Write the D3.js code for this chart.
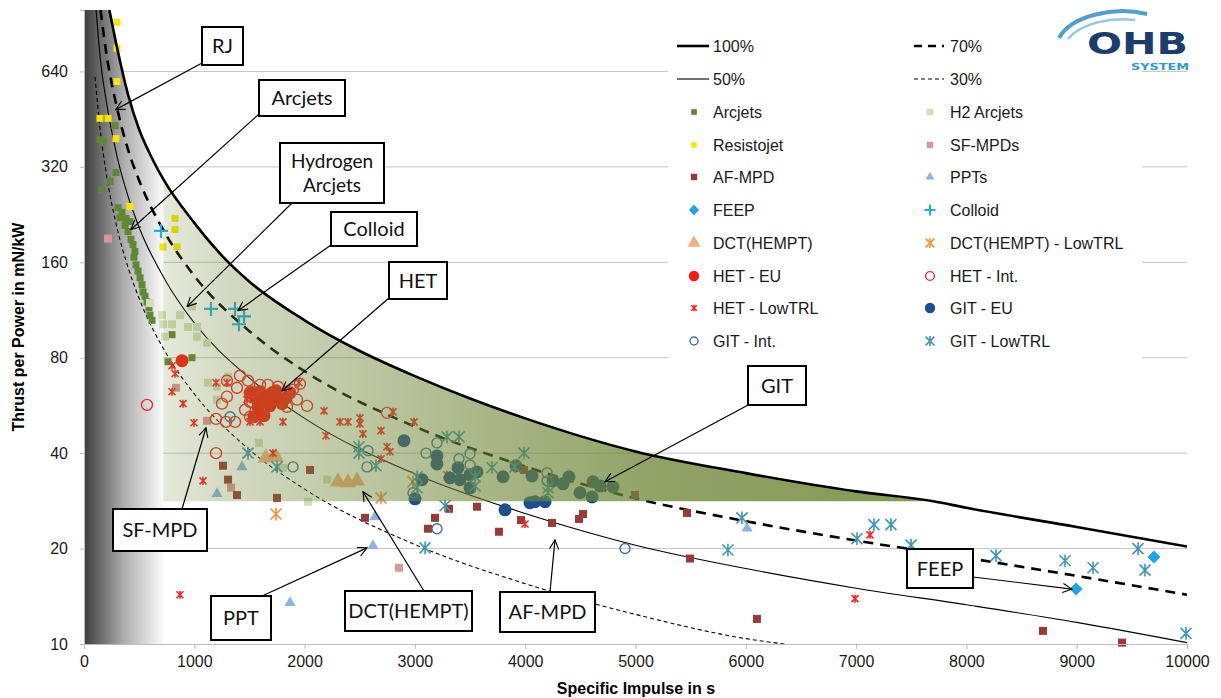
<!DOCTYPE html>
<html>
<head>
<meta charset="utf-8">
<script src="https://cdn.jsdelivr.net/npm/d3@7"></script>
<style>
  body { margin: 0; background: #fff; }
  svg { display: block; font-family: "Liberation Sans", Arial, sans-serif; }
</style>
</head>
<body>
<div id="container"></div>
<script>
// axis ticks
let ispTicks = [0, 1000, 2000, 3000, 4000, 5000, 6000, 7000, 8000, 9000, 10000]
let tpTicks = [10, 20, 40, 80, 160, 320, 640]

// efficiency lines [Isp s, thrust/power mN/kW]
let eff100 = [[230, 1000], [300, 760], [400, 540], [500, 420], [600, 350], [720, 292], [1000, 213], [1250, 168], [1500, 139], [2000, 105], [2500, 84], [3000, 70], [3500, 59.5], [4000, 51.5], [5000, 40.5], [6000, 34.6], [7000, 30.3], [7700, 28.2], [8000, 26.9], [9000, 23.4], [10000, 20.3]]
let eff70 = [[150, 1000], [200, 740], [300, 490], [400, 362], [500, 290], [750, 194], [1000, 145], [1500, 97], [2000, 72.5], [3000, 48.5], [4000, 36.3], [5000, 28.8], [6000, 24.4], [7000, 21.2], [8000, 18.7], [9000, 16.4], [10000, 14.3]]
let eff50 = [[110, 1000], [150, 690], [200, 520], [300, 345], [400, 258], [500, 206], [750, 138], [1000, 103], [1500, 69], [2000, 51.5], [3000, 34.4], [4000, 25.8], [5000, 20.5], [6000, 17.3], [7000, 15.0], [8000, 13.3], [9000, 11.7], [10000, 10.1]]
let eff30 = [[100, 615], [150, 410], [200, 308], [300, 205], [400, 154], [500, 123], [750, 82], [1000, 61.5], [1500, 41], [2000, 30.8], [3000, 20.6], [4000, 15.5], [5000, 12.4], [6000, 10.4], [6450, 9.9]]

// thruster data [Isp s, thrust/power mN/kW]
let arcjets = [[281, 432], [145, 390], [172, 385], [290, 307], [236, 288], [163, 271], [308, 238], [344, 230], [417, 215], [372, 209], [399, 200], [426, 189], [444, 182], [462, 173], [453, 166], [471, 157], [490, 150], [508, 143], [526, 136], [535, 129], [553, 125], [571, 120], [589, 115], [598, 109], [617, 105], [798, 94.6], [979, 80], [762, 77.7], [326, 221], [381, 220]]
let h2Arcjets = [[598, 119], [707, 109], [870, 109], [979, 116], [716, 102], [798, 102], [943, 100], [1024, 100], [734, 93.2], [1024, 93.2], [1115, 89.2], [1124, 66.7], [1206, 64.8], [1306, 69.7], [1206, 59], [1587, 43.1], [1804, 36], [2031, 28.1], [2203, 33]]
let resistojet = [[299, 914], [299, 757], [299, 595], [145, 455], [218, 455], [290, 393], [417, 240], [825, 220], [825, 203], [716, 179], [843, 179]]
let sfMpd = [[218, 190], [834, 64.3], [1115, 50.6], [1333, 31.1], [2856, 17.4]]
let afMpd = [[1260, 36.5], [1306, 33], [1387, 29.5], [1750, 28.9], [2049, 35.4], [2548, 25], [3182, 25], [3119, 23.1], [3309, 26.7], [3563, 27.1], [3762, 22.6], [3962, 24.6], [4243, 24.1], [4488, 24.8], [4524, 25.7], [3989, 35.4], [4995, 29.5], [5467, 25.9], [5494, 18.6], [6101, 12], [8694, 11], [9411, 10.1]]
let ppts = [[1432, 36.2], [1206, 29.8], [2638, 25.2], [2620, 20.4], [1868, 13.5], [6011, 23.2]]
let feep = [[8994, 14.9], [9701, 18.8]]
let colloid = [[698, 201], [1151, 114], [1369, 114], [1451, 108], [1405, 102]]
let dct = [[1650, 38.7], [1741, 38.9], [2303, 32.5], [2393, 32.3], [2475, 32.7]]
let dctLow = [[1741, 25.7], [2693, 28.9], [2983, 32.5]]
let hetEu = [[889, 78.3], [1505, 62.0], [1550, 59.8], [1596, 62.5], [1632, 60.7], [1668, 59.0], [1704, 62.0], [1750, 60.3], [1795, 57.3], [1831, 59.8], [1577, 56.0], [1541, 52.1], [1632, 52.5], [1686, 56.4], [1741, 62.9], [1868, 62.0]]
let hetInt = [[571, 56.8], [1197, 40], [1296, 67.7], [1387, 64.3], [1296, 60.3], [1251, 57.3], [1197, 51.3], [1287, 50.2], [1369, 50.2], [1487, 67.7], [1523, 62.5], [1596, 65.7], [1668, 65.7], [1759, 64.8], [1840, 62.5], [1895, 63.4], [1931, 59], [2022, 56.4], [1505, 52.1], [1840, 56], [2747, 53.6], [1505, 58.1], [1414, 70.2], [1958, 66.2], [1460, 54.8]]
let hetLow = [[798, 75.5], [825, 71.2], [798, 62.5], [898, 57.3], [997, 49.9], [1197, 66.7], [1296, 66.7], [1478, 59], [1505, 50.2], [1596, 50.2], [1804, 50.2], [1713, 40], [1079, 32.7], [1949, 66.7], [2176, 54.4], [2321, 50.2], [2393, 50.2], [2502, 51.7], [2502, 49.5], [2194, 45.4], [2529, 46], [2693, 47.1], [2747, 41.9], [2774, 40.4], [2693, 38.4], [2801, 54], [2992, 50.2], [3291, 34.2], [3998, 23.9], [870, 14.3], [6990, 13.9], [7126, 22.1]]
let gitEu = [[2901, 43.8], [3200, 39.2], [3200, 37], [3391, 36], [3318, 33.4], [3409, 33], [3500, 34.2], [3563, 34.9], [3500, 31.1], [3064, 33], [3001, 28.7], [3799, 33.7], [3917, 36.5], [4062, 33.9], [4252, 32.7], [4343, 32], [4397, 33.7], [4497, 30], [4615, 32.5], [4679, 31.5], [4796, 31.3], [4606, 29.1], [3817, 26.5], [4043, 27.9], [4089, 28.1], [4180, 28.1]]
let gitInt = [[1324, 52.1], [1895, 36.2], [2575, 40.7], [2566, 36.2], [3101, 40], [3200, 43.1], [2983, 30], [3400, 38.4], [3500, 39.8], [3500, 36.7], [4198, 34.7], [4198, 32.7], [3200, 23.1], [4905, 20]]
let gitLow = [[1487, 40], [1750, 36.2], [2493, 41.9], [2493, 40], [2647, 36.5], [3019, 33.7], [3019, 31.1], [3291, 45], [3400, 45], [3545, 33.7], [3545, 31.5], [3699, 36], [3907, 36.2], [3989, 40], [4207, 31.1], [4207, 30], [3273, 27.3], [3092, 20.1], [5965, 25], [5838, 19.8], [7008, 21.5], [7162, 23.8], [7316, 23.8], [7498, 20.5], [8268, 19], [8894, 18.3], [9148, 17.4], [9556, 20], [9619, 17.1], [9991, 10.8]]

// shaded areas
let grayEdge = 720, greenEnd = 7700, greenFloor = 28.2

let width = 1221, height = 698
let plot = { left: 84, right: 1187, top: 10, bottom: 644 }

let svg = d3.select('#container').append('svg')
  .attr('width', width)
  .attr('height', height)

let x = d3.scaleLinear().domain([0, 10000]).range([plot.left, plot.right])
let y = d3.scaleLog().base(2).domain([10, 1000]).range([plot.bottom, plot.top])

let defs = svg.append('defs')
defs.append('clipPath').attr('id', 'plotclip')
  .append('rect')
  .attr('x', plot.left).attr('y', plot.top)
  .attr('width', plot.right - plot.left).attr('height', plot.bottom - plot.top)

let grayGrad = defs.append('linearGradient').attr('id', 'grayGrad')
  .attr('gradientUnits', 'userSpaceOnUse')
  .attr('x1', x(0)).attr('x2', x(grayEdge)).attr('y1', 0).attr('y2', 0)
grayGrad.append('stop').attr('offset', 0).attr('stop-color', '#3c3c3c')
grayGrad.append('stop').attr('offset', 0.5).attr('stop-color', '#adadad')
grayGrad.append('stop').attr('offset', 1).attr('stop-color', '#fbfbfb')

let greenGrad = defs.append('linearGradient').attr('id', 'greenGrad')
  .attr('gradientUnits', 'userSpaceOnUse')
  .attr('x1', x(grayEdge)).attr('x2', x(greenEnd)).attr('y1', 0).attr('y2', 0)
;[[0, 0.18], [0.08, 0.3], [0.25, 0.45], [0.45, 0.62], [0.65, 0.76], [1, 0.84]].forEach(function (s) {
  greenGrad.append('stop').attr('offset', s[0])
    .attr('stop-color', '#6d8534').attr('stop-opacity', s[1])
})

let arrow = defs.append('marker').attr('id', 'arrow')
  .attr('viewBox', '0 0 12 12').attr('refX', 11).attr('refY', 6)
  .attr('markerWidth', 11).attr('markerHeight', 11)
  .attr('markerUnits', 'userSpaceOnUse').attr('orient', 'auto')
arrow.append('path').attr('d', 'M1,1L11,6L1,11')
  .attr('fill', 'none').attr('stroke', '#000').attr('stroke-width', 1.2)

// grid
svg.append('g').selectAll('line')
  .data(tpTicks.slice(1)).enter().append('line')
  .attr('x1', plot.left).attr('x2', plot.right)
  .attr('y1', d => y(d)).attr('y2', d => y(d))
  .attr('stroke', '#c4c4c4').attr('stroke-width', 1)

let under = svg.append('g').attr('clip-path', 'url(#plotclip)')

// gray region under 100% for low Isp
let grayPts = [[0, 1000]].concat(eff100.filter(d => d[0] <= grayEdge))
under.append('path')
  .attr('d', d3.area().x(d => x(d[0])).y0(y(10)).y1(d => y(d[1])).curve(d3.curveMonotoneX)(grayPts))
  .attr('fill', 'url(#grayGrad)')

let line = d3.line().x(d => x(d[0])).y(d => y(d[1])).curve(d3.curveMonotoneX)

let lineStyles = [
  { data: eff70, w: 2.6, dash: '10,7' },
  { data: eff50, w: 1.1, dash: null },
  { data: eff30, w: 1.1, dash: '4,3' }
]
lineStyles.forEach(function (s) {
  under.append('path').attr('d', line(s.data))
    .attr('fill', 'none').attr('stroke', '#000')
    .attr('stroke-width', s.w).attr('stroke-dasharray', s.dash)
})

// marker shapes
function shapePath(shape, size) {
  let r = size / 2
  if (shape == 'square') return d3.symbol(d3.symbolSquare, size * size)()
  if (shape == 'circle') return d3.symbol(d3.symbolCircle, Math.PI * r * r)()
  if (shape == 'triangle') return d3.symbol(d3.symbolTriangle, size * size * 0.45)()
  if (shape == 'diamond') return 'M0,' + (-r) + 'L' + r + ',0L0,' + r + 'L' + (-r) + ',0Z'
  if (shape == 'plus') return 'M' + (-r) + ',0L' + r + ',0M0,' + (-r) + 'L0,' + r
  if (shape == 'star') return 'M' + (-r) + ',' + (-r) + 'L' + r + ',' + r + 'M' + (-r) + ',' + r + 'L' + r + ',' + (-r) + 'M0,' + (-r * 1.15) + 'L0,' + (r * 1.15)
}

let series = [
  { name: 'Arcjets', data: arcjets, shape: 'square', color: '#5f8834', size: 7, open: false },
  { name: 'H2 Arcjets', data: h2Arcjets, shape: 'square', color: '#d3dfb8', size: 8, open: false },
  { name: 'Resistojet', data: resistojet, shape: 'square', color: '#f7e600', size: 7, open: false },
  { name: 'SF-MPDs', data: sfMpd, shape: 'square', color: '#d9999a', size: 8, open: false },
  { name: 'AF-MPD', data: afMpd, shape: 'square', color: '#983a36', size: 8, open: false },
  { name: 'PPTs', data: ppts, shape: 'triangle', color: '#8db3e2', size: 11, open: false },
  { name: 'FEEP', data: feep, shape: 'diamond', color: '#1fa3e6', size: 13, open: false },
  { name: 'Colloid', data: colloid, shape: 'plus', color: '#22aee0', size: 14, open: true },
  { name: 'DCT(HEMPT)', data: dct, shape: 'triangle', color: '#f2b07e', size: 16, open: false },
  { name: 'DCT(HEMPT) - LowTRL', data: dctLow, shape: 'star', color: '#f5903c', size: 11, open: true },
  { name: 'HET - EU', data: hetEu, shape: 'circle', color: '#ff1a10', size: 13, open: false },
  { name: 'HET - Int.', data: hetInt, shape: 'circle', color: '#f02a2a', size: 11, open: true },
  { name: 'HET - LowTRL', data: hetLow, shape: 'star', color: '#ff2222', size: 7, open: true },
  { name: 'GIT - EU', data: gitEu, shape: 'circle', color: '#1c4f8f', size: 13, open: false },
  { name: 'GIT - Int.', data: gitInt, shape: 'circle', color: '#3f6f9f', size: 10, open: true },
  { name: 'GIT - LowTRL', data: gitLow, shape: 'star', color: '#3d97b4', size: 11, open: true }
]

function styleMarker(sel, s, scale) {
  sel.attr('d', shapePath(s.shape, s.size * scale))
    .attr('fill', s.open ? 'none' : s.color)
    .attr('stroke', s.open ? s.color : 'none')
    .attr('stroke-width', s.shape == 'star' ? 1.6 : (s.shape == 'plus' ? 2.2 : 1.4))
}

let marks = svg.append('g')
series.forEach(function (s) {
  marks.append('g').selectAll('path')
    .data(s.data).enter().append('path')
    .attr('transform', d => 'translate(' + x(d[0]) + ',' + y(d[1]) + ')')
    .call(styleMarker, s, 1)
})

// green region (translucent, laid over lines and markers)
let over = svg.append('g').attr('clip-path', 'url(#plotclip)')
let greenPts = eff100.filter(d => d[0] >= grayEdge && d[0] <= greenEnd)
over.append('path')
  .attr('d', d3.area().x(d => x(d[0])).y0(y(greenFloor)).y1(d => y(d[1])).curve(d3.curveMonotoneX)(greenPts))
  .attr('fill', 'url(#greenGrad)')

over.append('path').attr('d', line(eff100))
  .attr('fill', 'none').attr('stroke', '#000').attr('stroke-width', 2.6)

// axes
let xAxis = d3.axisBottom(x).tickValues(ispTicks).tickFormat(d3.format('d')).tickSize(5).tickPadding(7)
let yAxis = d3.axisLeft(y).tickValues(tpTicks).tickFormat(d => d).tickSize(4).tickPadding(12)

let gx = svg.append('g').attr('transform', 'translate(0,' + plot.bottom + ')').call(xAxis)
let gy = svg.append('g').attr('transform', 'translate(' + plot.left + ',0)').call(yAxis)
;[gx, gy].forEach(function (g) {
  g.select('.domain').attr('stroke', '#bdbdbd')
  g.selectAll('.tick line').attr('stroke', '#bdbdbd')
  g.selectAll('.tick text').attr('font-size', 16).attr('fill', '#1a1a1a')
    .attr('font-family', '"Liberation Sans", Arial, sans-serif')
})

svg.append('text')
  .attr('x', 636).attr('y', 694)
  .attr('text-anchor', 'middle').attr('font-size', 16).attr('font-weight', 'bold')
  .text('Specific Impulse in s')
svg.append('text')
  .attr('transform', 'translate(24,327) rotate(-90)')
  .attr('text-anchor', 'middle').attr('font-size', 16).attr('font-weight', 'bold')
  .text('Thrust per Power in mN/kW')

// legend
let legend = svg.append('g')
legend.append('rect').attr('x', 668).attr('y', 28).attr('width', 474).attr('height', 334).attr('fill', '#fff')
let legCols = [{ mark: 694, line: [677, 709], text: 713 }, { mark: 930, line: [914, 944], text: 950 }]
let legRows = [46, 79, 112, 145, 177, 210, 243, 276, 308, 341]
let legLines = [
  { name: '100%', w: 2.6, dash: null },
  { name: '70%', w: 2.6, dash: '8,6' },
  { name: '50%', w: 1.1, dash: null },
  { name: '30%', w: 1.1, dash: '4,3' }
]
legLines.forEach(function (l, i) {
  let c = legCols[i % 2], ry = legRows[Math.floor(i / 2)]
  legend.append('line').attr('x1', c.line[0]).attr('x2', c.line[1]).attr('y1', ry).attr('y2', ry)
    .attr('stroke', '#000').attr('stroke-width', l.w).attr('stroke-dasharray', l.dash)
  legend.append('text').attr('x', c.text).attr('y', ry).attr('dy', '0.36em')
    .attr('font-size', 16).attr('fill', '#1a1a1a').text(l.name)
})
series.forEach(function (s, i) {
  let c = legCols[i % 2], ry = legRows[2 + Math.floor(i / 2)]
  legend.append('path').attr('transform', 'translate(' + c.mark + ',' + ry + ')')
    .call(styleMarker, s, 0.8)
  legend.append('text').attr('x', c.text).attr('y', ry).attr('dy', '0.36em')
    .attr('font-size', 16).attr('fill', '#1a1a1a').text(s.name)
})

// callouts: box in px, tip in data units
let callouts = [
  { text: ['RJ'], box: [202, 27, 41, 38], from: [202, 63], tip: [287, 485] },
  { text: ['Arcjets'], box: [259, 80, 86, 36], from: [259, 114], tip: [426, 203] },
  { text: ['Hydrogen', 'Arcjets'], box: [280, 143, 104, 60], from: [292, 203], tip: [934, 116] },
  { text: ['Colloid'], box: [331, 212, 86, 34], from: [331, 245], tip: [1396, 112.6] },
  { text: ['HET'], box: [389, 262, 58, 37], from: [389, 298], tip: [1795, 62.9] },
  { text: ['GIT'], box: [748, 366, 58, 39], from: [750, 404], tip: [4723, 32.5] },
  { text: ['FEEP'], box: [907, 549, 66, 39], from: [973, 577], tip: [8957, 14.9] },
  { text: ['SF-MPD'], box: [113, 509, 94, 42], from: [182, 509], tip: [1106, 48.1] },
  { text: ['PPT'], box: [211, 596, 60, 44], from: [262, 596], tip: [2566, 20.1] },
  { text: ['DCT(HEMPT)'], box: [345, 591, 127, 40], from: [424, 591], tip: [2530, 30.2] },
  { text: ['AF-MPD'], box: [500, 592, 95, 40], from: [550, 592], tip: [4270, 21.3] }
]
let cg = svg.append('g')
callouts.forEach(function (c) {
  cg.append('line')
    .attr('x1', c.from[0]).attr('y1', c.from[1])
    .attr('x2', x(c.tip[0])).attr('y2', y(c.tip[1]))
    .attr('stroke', '#000').attr('stroke-width', 1.2)
    .attr('marker-end', 'url(#arrow)')
  cg.append('rect')
    .attr('x', c.box[0]).attr('y', c.box[1]).attr('width', c.box[2]).attr('height', c.box[3])
    .attr('fill', '#fff').attr('stroke', '#000').attr('stroke-width', 2)
  let n = c.text.length
  c.text.forEach(function (t, k) {
    cg.append('text')
      .attr('x', c.box[0] + c.box[2] / 2)
      .attr('y', c.box[1] + c.box[3] / 2 + (k - (n - 1) / 2) * 24)
      .attr('dy', '0.35em').attr('text-anchor', 'middle')
      .attr('font-family', 'Lato, "Open Sans", sans-serif').attr('font-size', n > 1 ? 19 : 20)
      .attr('fill', '#111').text(t)
  })
})

// logo
let logo = svg.append('g').attr('transform', 'translate(1055,8)')
logo.append('path').attr('d', 'M4,30 C16,8 58,-2 92,6')
  .attr('fill', 'none').attr('stroke', '#4f9fd0').attr('stroke-width', 4)
logo.append('path').attr('d', 'M13,31 C26,15 56,9 80,12')
  .attr('fill', 'none').attr('stroke', '#94c6e6').attr('stroke-width', 2.5)
logo.append('text').attr('x', 32).attr('y', 46)
  .attr('font-family', '"DejaVu Sans", sans-serif').attr('font-weight', 'bold')
  .attr('font-size', 30).attr('fill', '#1b3d6b')
  .attr('textLength', 101).attr('lengthAdjust', 'spacingAndGlyphs').text('OHB')
logo.append('text').attr('x', 76).attr('y', 62)
  .attr('font-family', '"DejaVu Sans", sans-serif').attr('font-weight', 'bold')
  .attr('font-size', 9).attr('fill', '#3399cf')
  .attr('textLength', 58).attr('lengthAdjust', 'spacingAndGlyphs').text('SYSTEM')
</script>
</body>
</html>
